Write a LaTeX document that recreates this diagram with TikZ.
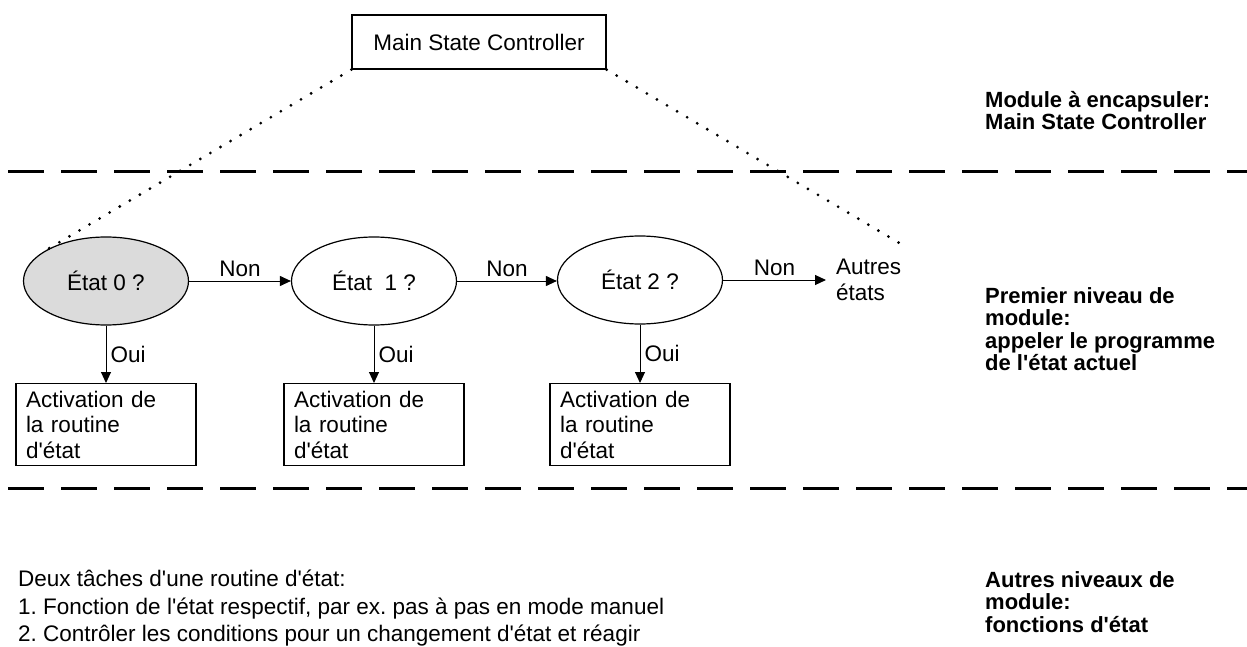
\documentclass[tikz,border=0pt]{standalone}
\usepackage{fontspec}
\setmainfont{Liberation Sans}
\usetikzlibrary{arrows.meta,shapes.geometric}
\newcommand{\aq}{\textquotesingle}
\begin{document}
\frenchspacing
\begin{tikzpicture}[x=1pt,y=-1pt,
  every node/.style={font=\fontsize{22.5}{25.5}\selectfont},
  sepline/.style={line width=3pt, dash pattern=on 36pt off 17pt},
  dots/.style={line width=3.1pt, line cap=round, dash pattern=on 0pt off 11.7pt},
  statebox/.style={draw, line width=1.2pt, ellipse, minimum width=165pt, minimum height=88pt, inner sep=0pt},
  routine/.style={draw, line width=1.2pt, rectangle, anchor=north, text width=160pt, inner xsep=10pt, inner ysep=3pt, minimum height=82pt, align=left},
  arr/.style={line width=1pt, -{Triangle[length=11pt,width=10pt]}},
  lab/.style={inner sep=4pt},
  side/.style={anchor=north west, align=left, inner sep=0pt, font=\fontsize{22}{22.5}\selectfont\bfseries}
]
\useasboundingbox (0,0) rectangle (1247,647);

% separators
\draw[sepline] (8,172) -- (1247,172);
\draw[sepline] (8,488) -- (1247,488);

% main controller
\node[draw, line width=1.2pt, minimum width=254pt, minimum height=54pt, inner sep=0pt] (msc) at (479,42) {Main State Controller};

% states
\node[statebox, fill=gray!28] (e0) at (106,281) {État 0 ?};
\node[statebox] (e1) at (374,281) {État\ \ 1 ?};
\node[statebox] (e2) at (640,280) {État 2 ?};
\node[anchor=west, align=left, inner xsep=10pt, inner ysep=0pt] (autres) at (826,280) {Autres\\états};

% routines
\node[routine] (b0) at (106,383) {Activation de\\la routine\\d\aq état};
\node[routine] (b1) at (374,383) {Activation de\\la routine\\d\aq état};
\node[routine] (b2) at (640,383) {Activation de\\la routine\\d\aq état};

% connectors
\draw[arr] (e0) -- node[above, lab] {Non} (e1);
\draw[arr] (e1.east) -- node[above, lab] {Non} (e1.east -| e2.west);
\draw[arr] (e2) -- node[above, lab] {Non} (autres.west);
\draw[arr] (e0.south) -- node[right, lab] {Oui} (b0.north);
\draw[arr] (e1.south) -- node[right, lab] {Oui} (b1.north);
\draw[arr] (e2.south) -- node[right, lab] {Oui} (b2.north);

% dotted encapsulation lines
\coordinate (dotend) at (906,247);
\draw[dots] (msc.south west) -- (e0.153);
\draw[dots] (msc.south east) -- (dotend);

% bottom text
\node[anchor=north west, align=left, inner sep=0pt, font=\fontsize{22.5}{27.5}\selectfont] (tasks) at (18,570)
  {Deux tâches d\aq une routine d\aq état:\\1. Fonction de l\aq état respectif, par ex. pas à pas en mode manuel\\2. Contrôler les conditions pour un changement d\aq état et réagir};

% side labels
\node[side] (lvl0) at (985,91) {Module à encapsuler:\\Main State Controller};
\node[side] (lvl1) at (985,287) {Premier niveau de\\module:\\appeler le programme\\de l\aq état actuel};
\node[side] (lvl2) at (985,571) {Autres niveaux de\\module:\\fonctions d\aq état};
\end{tikzpicture}
\end{document}
